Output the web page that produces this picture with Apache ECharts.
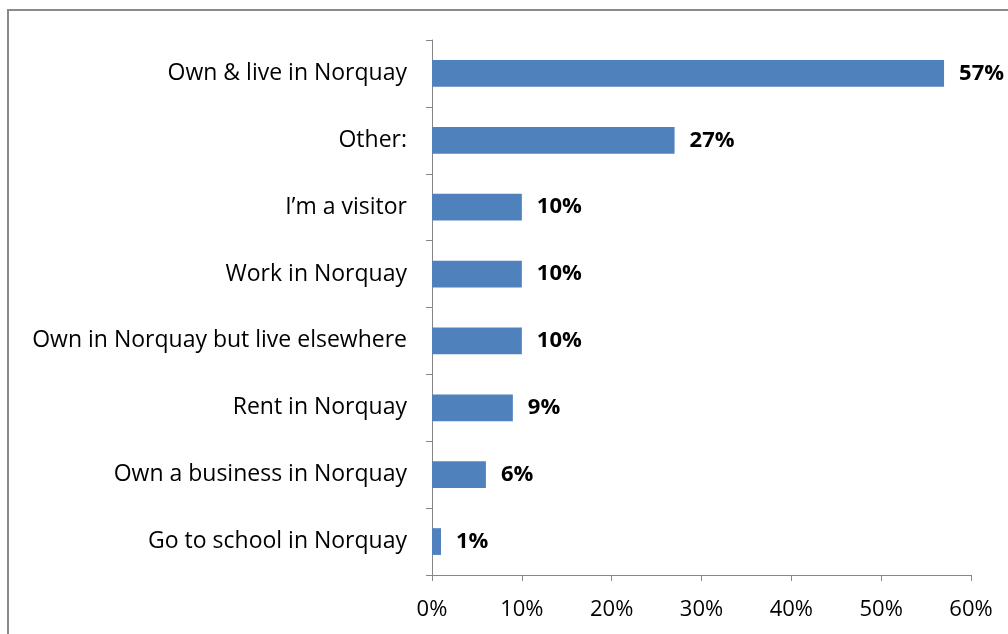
<!DOCTYPE html>
<html><head><meta charset="utf-8">
<script src="https://cdn.jsdelivr.net/npm/echarts@6/dist/echarts.min.js"></script>
<style>html,body{margin:0;padding:0;background:#fff}#c{width:1008px;height:634px}</style>
</head><body><div id="c"></div>
<script>
const categories = ["Own & live in Norquay","Other:","I\u2019m a visitor","Work in Norquay","Own in Norquay but live elsewhere","Rent in Norquay","Own a business in Norquay","Go to school in Norquay"];
const values = [57,27,10,10,10,9,6,1];
const xTicks = [0,10,20,30,40,50,60];
const font = "Open Sans";
const chart = echarts.init(document.getElementById('c'));
chart.setOption({
  animation:false,
  graphic:[{type:'rect',shape:{x:8,y:10,width:1100,height:700},style:{fill:'none',stroke:'#8a8a8a',lineWidth:2},silent:true}],
  grid:{left:432,right:37,top:40,bottom:59,containLabel:false},
  xAxis:{type:'value',min:xTicks[0],max:xTicks[xTicks.length-1],interval:10,
    axisLine:{show:true,lineStyle:{color:'#868686',width:1}},
    axisTick:{show:true,length:6,inside:false,lineStyle:{color:'#868686'}},
    splitLine:{show:false},
    axisLabel:{formatter:v=>v+'%',color:'#000',fontFamily:font,fontSize:22,margin:24}},
  yAxis:{type:'category',inverse:true,data:categories,
    axisLine:{show:true,lineStyle:{color:'#868686',width:1}},
    axisTick:{show:true,length:6,alignWithLabel:false,lineStyle:{color:'#868686'}},
    axisLabel:{color:'#000',fontFamily:font,fontSize:23,margin:25}},
  series:[{type:'bar',data:values,barCategoryGap:'60%',itemStyle:{color:'#4F81BD'},
    label:{show:true,position:'right',distance:15,formatter:p=>p.value+'%',color:'#000',fontWeight:'bold',fontFamily:font,fontSize:22}}]
});
</script></body></html>
